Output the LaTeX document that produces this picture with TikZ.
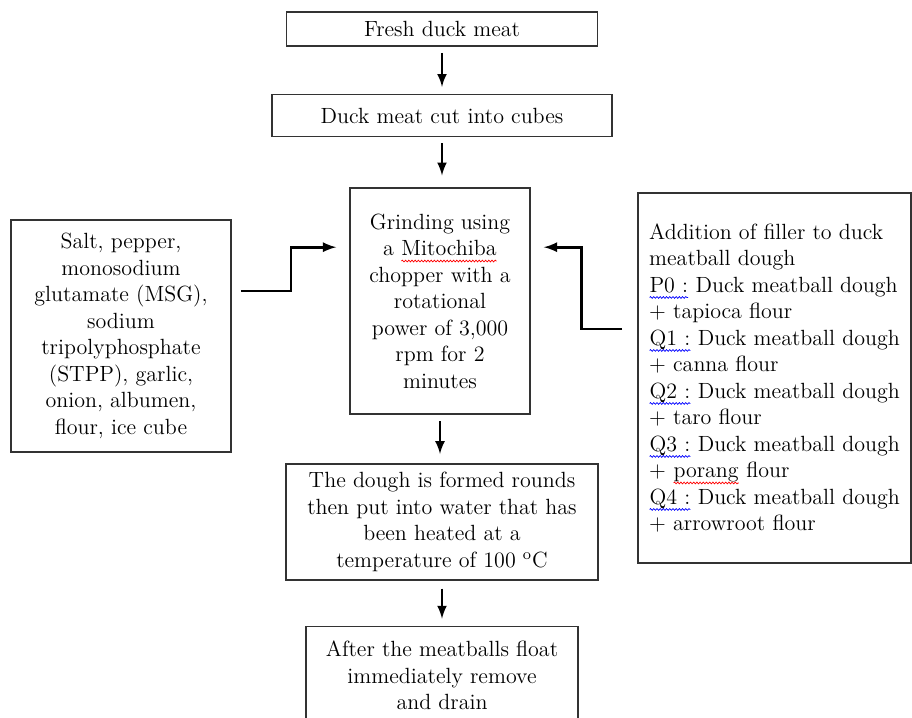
\documentclass[tikz,border=0pt]{standalone}
\usetikzlibrary{positioning,arrows,decorations.pathmorphing}

% wavy spell-check mark under a word
\newcommand{\spellmark}[2]{\tikz[baseline=(w.base)]{\node[inner sep=0pt,outer sep=0pt,draw=none,fill=none,text width={},align=none,minimum width=0pt,minimum height=0pt] (w) {#2};\draw[#1,line width=0.35pt,decorate,decoration={snake,amplitude=0.45pt,segment length=1.6pt}] ([yshift=-2.6pt]w.base west) -- ([yshift=-2.6pt]w.base east);}}

\begin{document}
\begin{tikzpicture}[x=0.5pt,y=-0.5pt,
				box/.style={
					draw=black!80,
					line width=0.8pt,
					inner sep=0pt,
					align=center,
					text=black,
					font=\fontsize{11}{13.25}\selectfont
				},
				flow/.style={
					-latex,
					line width=1.2pt,
					shorten <=3pt,
					shorten >=3.5pt
				},
				elbow/.style={
					-latex,
					line width=1.3pt
				},
				node distance=24pt
			]
			\clip (0,0) rectangle (912,718);
			\node[box,minimum width=155.5pt,minimum height=17pt] at (442,29)
			(fresh) {Fresh duck meat};
			\node[box,minimum width=170pt,minimum height=21pt,below=23.5pt of fresh]
			(cubes) {Duck meat cut into cubes};
			\node[box,minimum width=90pt,minimum height=113pt,below=25pt of cubes,xshift=-1pt]
			(grind) {Grinding using\\ a \spellmark{red}{Mitochiba}\\ chopper with a\\ rotational\\ power of 3,000\\ rpm for 2\\ minutes};
			\node[box,minimum width=156pt,minimum height=58pt,below=24pt of grind,xshift=1pt]
			(heat) {The dough is formed rounds\\ then put into water that has\\ been heated at a\\ temperature of 100 \textsuperscript{o}C};
			\node[box,minimum width=136pt,minimum height=49pt,below=22.5pt of heat]
			(drain) {After the meatballs float\\ immediately remove\\ and drain};
			
			\node[box,minimum width=110pt,minimum height=116pt] at (121,336)
			(mix) {Salt, pepper,\\ monosodium\\ glutamate (MSG),\\ sodium\\ tripolyphosphate\\ (STPP), garlic,\\ onion, albumen,\\ flour, ice cube};
			\node[box,align=left,minimum width=136.5pt,minimum height=185pt] at (774.5,378)
			(filler) {Addition of filler to duck\\ meatball dough\\
				\spellmark{blue}{P0 :} Duck meatball dough\\ + tapioca flour\\
				\spellmark{blue}{Q1 :} Duck meatball dough\\ + canna flour\\
				\spellmark{blue}{Q2 :} Duck meatball dough\\ + taro flour\\
				\spellmark{blue}{Q3 :} Duck meatball dough\\ + \spellmark{red}{porang} flour\\
				\spellmark{blue}{Q4 :} Duck meatball dough\\ + arrowroot flour};
			
			\draw[flow] (fresh) -- (cubes);
			\draw[flow,shorten >=6pt] (cubes) -- (cubes|-grind.north);
			\draw[flow,shorten >=4.5pt] (grind) -- (grind|-heat.north);
			\draw[flow,shorten <=4pt] (heat) -- (heat|-drain.north);
			
			\draw[elbow] ([shift={(4.5pt,22.5pt)}]mix.east) -- ++(25pt,0)
			|- ([shift={(-6.5pt,27pt)}]grind.west);
			\draw[elbow] ([shift={(-7.5pt,24.5pt)}]filler.west) -- ++(-20.5pt,0)
			|- ([shift={(6.5pt,27pt)}]grind.east);
		\end{tikzpicture}
\end{document}
